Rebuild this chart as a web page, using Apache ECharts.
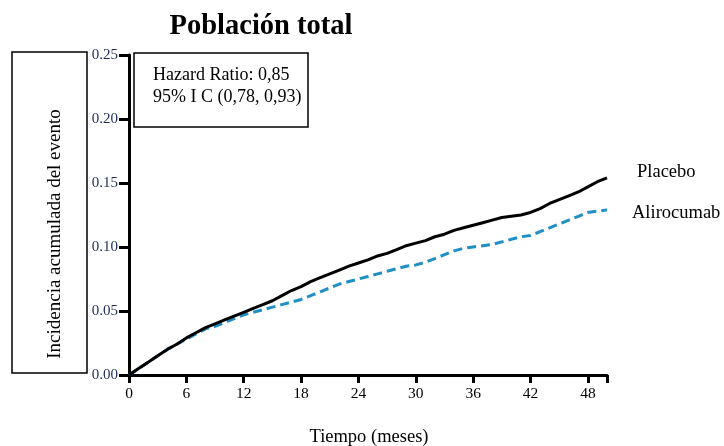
<!DOCTYPE html>
<html>
<head>
<meta charset="utf-8">
<script src="https://cdn.jsdelivr.net/npm/echarts@6/dist/echarts.min.js"></script>
<style>html,body{margin:0;padding:0;background:#fff}#c{width:724px;height:446px}</style>
</head>
<body>
<div id="c"></div>
<script>
var months = [0,1,2,3,4,5,6,7,8,9,10,11,12,13,14,15,16,17,18,19,20,21,22,23,24,25,26,27,28,29,30,31,32,33,34,35,36,37,38,39,40,41,42,43,44,45,46,47,48,49,50];
var placebo = [0,0.005,0.010,0.015,0.020,0.024,0.029,0.033,0.037,0.040,0.043,0.046,0.049,0.052,0.055,0.058,0.062,0.066,0.069,0.073,0.076,0.079,0.082,0.085,0.0875,0.090,0.093,0.095,0.098,0.101,0.103,0.105,0.108,0.110,0.113,0.115,0.117,0.119,0.121,0.123,0.124,0.125,0.127,0.130,0.134,0.137,0.140,0.143,0.147,0.151,0.154];
var alirocumab = [0,0.005,0.010,0.015,0.020,0.024,0.028,0.032,0.036,0.038,0.041,0.044,0.047,0.049,0.051,0.053,0.055,0.057,0.059,0.062,0.065,0.068,0.071,0.073,0.075,0.077,0.079,0.081,0.083,0.085,0.086,0.088,0.091,0.094,0.097,0.099,0.100,0.101,0.102,0.104,0.106,0.108,0.109,0.112,0.115,0.118,0.121,0.124,0.127,0.128,0.129];
var xTicks = [0,6,12,18,24,30,36,42,48];
var yTicks = ['0.00','0.05','0.10','0.15','0.20','0.25'];
var seriesNames = ['Placebo','Alirocumab'];
var titleText = 'Población total';
var yName = 'Incidencia acumulada del evento';
var xName = 'Tiempo (meses)';
var hrLines = ['Hazard Ratio: 0,85','95% I C (0,78, 0,93)'];

function pairs(xs, ys){ return xs.map(function(x,i){ return [x, ys[i]]; }); }

var chart = echarts.init(document.getElementById('c'));
var serif = 'Liberation Serif';
chart.setOption({
  animation:false,
  title:{text:titleText,left:256,top:7,textAlign:'center',textStyle:{fontFamily:serif,fontSize:28.5,fontWeight:'bold',color:'#000'}},
  grid:{left:129,right:117,top:55,bottom:71},
  xAxis:{type:'value',min:0,max:50,interval:6,
    axisLine:{show:true,lineStyle:{color:'#000',width:3}},
    axisTick:{show:true,length:8,lineStyle:{color:'#000',width:3}},
    splitLine:{show:false},
    axisLabel:{fontFamily:serif,fontSize:15.5,color:'#000',margin:11,
      formatter:function(v){ return xTicks.indexOf(v)>=0 ? String(v) : ''; }}
  },
  yAxis:{type:'value',min:0,max:0.25,interval:0.05,
    axisLine:{show:true,lineStyle:{color:'#000',width:3}},
    axisTick:{show:true,length:10,lineStyle:{color:'#000',width:3}},
    splitLine:{show:false},
    axisLabel:{fontFamily:serif,fontSize:15,color:'#1c2c58',margin:11,
      formatter:function(v){ return yTicks[Math.round(v/0.05)]; }}
  },
  series:[
    {name:seriesNames[0],type:'line',data:pairs(months,placebo),showSymbol:false,smooth:false,
      lineStyle:{color:'#000',width:3},z:3},
    {name:seriesNames[1],type:'line',data:pairs(months,alirocumab),showSymbol:false,smooth:false,
      lineStyle:{color:'#1f8fc6',width:3,type:[9,5]},z:2}
  ],
  graphic:[
    {type:'rect',shape:{x:12,y:52,width:75,height:321},style:{fill:'none',stroke:'#000',lineWidth:1.5}},
    {type:'text',x:55,y:234,rotation:Math.PI/2,style:{text:yName,fontFamily:serif,fontSize:19,fill:'#000',textAlign:'center',textVerticalAlign:'middle'}},
    {type:'rect',shape:{x:134,y:53,width:174,height:74},style:{fill:'#fff',stroke:'#000',lineWidth:1.5},z:10},
    {type:'text',x:153,y:75,z:11,style:{text:hrLines[0],fontFamily:serif,fontSize:18,fill:'#000',textVerticalAlign:'middle'}},
    {type:'text',x:153,y:97,z:11,style:{text:hrLines[1],fontFamily:serif,fontSize:18,fill:'#000',textVerticalAlign:'middle'}},
    {type:'text',x:637,y:172,style:{text:seriesNames[0],fontFamily:serif,fontSize:18.5,fill:'#000',textVerticalAlign:'middle'}},
    {type:'text',x:632,y:213,style:{text:seriesNames[1],fontFamily:serif,fontSize:18.5,fill:'#000',textVerticalAlign:'middle'}},
    {type:'text',x:369,y:437,style:{text:xName,fontFamily:serif,fontSize:18.5,fill:'#000',textAlign:'center',textVerticalAlign:'middle'}}
  ]
});
</script>
</body>
</html>
